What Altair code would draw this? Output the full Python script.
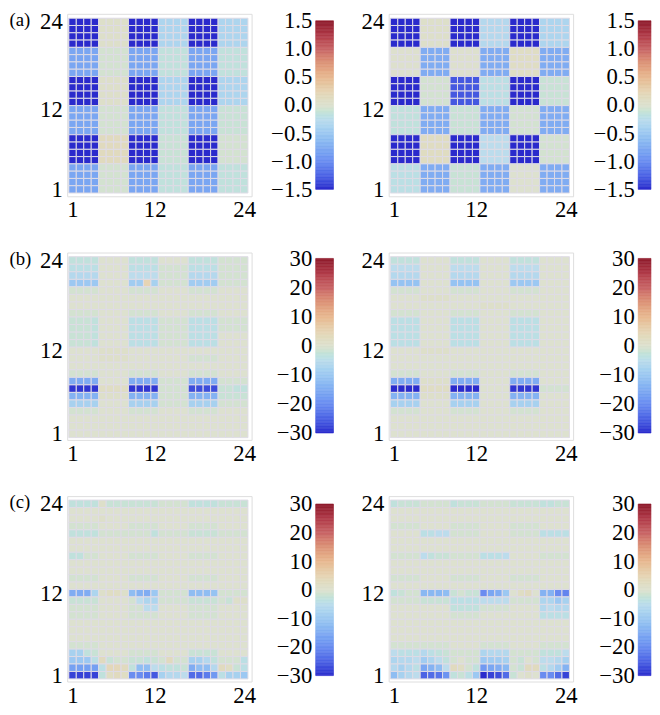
import altair as alt
import numpy as np
import pandas as pd

FONT = "Liberation Serif"

# ---- colour map stops (dark blue -> pale -> dark red) ----
CMAP = ["#2a2acc", "#4c62e4", "#6a8cf0", "#80acf2", "#9cc8f2", "#bcdcec",
        "#dde1cf", "#e6d4b4", "#e8b890", "#dc9478", "#c86466", "#b03a48", "#8e1a2c"]

AXIS_TICKS = [1, 12, 24]
CBAR_A_TICKS = [-1.5, -1.0, -0.5, 0.0, 0.5, 1.0, 1.5]
CBAR_BC_TICKS = [-30, -20, -10, 0, 10, 20, 30]
PANEL_LABELS = ["(a)", "(b)", "(c)"]

# ---- panel (a): 6x6 blocks of 4x4 cells, top block row first ----
A_LEFT = [
    [-1.5, 0.05, -1.5, -0.35, -1.5, -0.35],
    [-0.8, -0.05, -0.8, -0.15, -0.8, -0.15],
    [-1.5, 0.05, -1.5, -0.35, -1.5, -0.35],
    [-0.8, -0.05, -0.8, -0.15, -0.8, -0.1],
    [-1.5, 0.15, -1.5, -0.1, -1.5, -0.05],
    [-0.8, -0.05, -0.8, -0.15, -0.8, -0.15],
]
A_RIGHT = [
    [-1.5, 0.05, -1.5, -0.3, -1.5, -0.35],
    [0.02, -0.75, 0.02, -0.75, 0.1, -0.75],
    [-1.5, -0.05, -1.3, -0.2, -1.5, -0.1],
    [-0.15, -0.75, -0.1, -0.75, -0.05, -0.75],
    [-1.5, 0.12, -1.5, -0.25, -1.5, -0.05],
    [-0.2, -0.75, -0.1, -0.75, 0.0, -0.75],
]

# ---- panels (b), (c): 24 rows of 24 cells, top row (24) first ----
B_LEFT = [
    "-3 -3 -3 -3 0 0 0 0 -3 -3 -3 -3 0 0 0 0 -3 -3 -3 -3 -1 -1 -1 -1",
    "-4 -4 -4 -4 0 0 0 0 -4 -4 -4 -4 -1 -1 -1 -1 -4 -4 -4 -4 -1 -1 -1 -1",
    "-6 -6 -6 -6 0 0 0 0 -5 -5 -5 -5 -1 -1 -1 -1 -6 -6 -6 -6 -1 -1 -1 -1",
    "-10 -10 -10 -10 0 0 0 0 -9 -9 5 -8 -1 -1 -1 -1 -9 -9 -9 -9 -1 -1 -1 -1",
    "-1 -1 -1 -1 0 0 0 0 -1 -1 -1 -1 0 0 0 0 -1 -1 -1 -1 0 0 0 0",
    "0 0 0 0 0 0 0 0 0 0 0 0 0 0 0 0 0 0 0 0 0 0 0 0",
    "0 0 0 0 0 0 0 0 0 0 0 0 0 0 0 0 0 0 0 0 0 0 0 0",
    "-1 -1 -1 -1 0 0 0 0 -1 -1 -1 -1 0 0 0 0 -1 -1 -1 -1 0 0 0 0",
    "-2 -2 -2 -3 0 0 0 0 -4 -4 -4 -4 -1 -1 -1 -1 -4 -4 -4 -4 -1 -1 -1 -1",
    "-2 -2 -2 -3 0 0 0 0 -4 -4 -4 -4 -1 -1 -1 -1 -4 -4 -4 -4 -1 -1 -1 -1",
    "-2 -2 -2 -3 0 0 0 0 -4 -4 -4 -4 -1 -1 -1 -1 -4 -4 -4 -4 0 0 0 0",
    "-2 -2 -2 -3 0 0 0 0 -4 -4 -4 -4 -1 -1 -1 -1 -4 -4 -4 -4 0 0 0 0",
    "0 0 0 0 1 1 1 1 0 0 0 0 0 0 0 0 0 0 0 0 0 0 0 0",
    "0 0 0 0 1 1 1 1 0 0 0 0 0 0 0 0 -1 -1 -1 -1 0 0 0 0",
    "0 0 0 0 0 0 0 0 0 0 0 0 0 0 0 0 0 0 0 0 0 0 0 0",
    "-1 -1 -1 -1 0 0 0 0 -1 -1 -1 -1 0 0 0 0 -1 -1 -1 -1 0 0 0 0",
    "-15 -15 -15 -15 0 0 0 0 -15 -15 -15 -15 -1 -1 -1 -1 -15 -15 -15 -15 -1 -1 -1 -1",
    "-29 -29 -29 -29 2 2 2 2 -29 -29 -29 -29 -1 -1 -1 -1 -27 -27 -27 -27 -2 -2 -3 -3",
    "-14 -14 -14 -14 1 1 1 1 -14 -14 -14 -14 -1 -1 -1 -1 -14 -14 -14 -14 -2 -2 -2 -2",
    "-8 -8 -8 -8 0 0 0 0 -8 -8 -8 -8 -1 -1 -1 -1 -8 -8 -8 -8 -1 -1 -1 -1",
    "-1 -1 -1 -1 0 0 0 0 -1 -1 -1 -1 0 0 0 0 -1 -1 -1 -1 0 0 0 0",
    "0 0 0 0 0 0 0 0 0 0 0 0 0 0 0 0 0 0 0 0 0 0 0 0",
    "0 0 0 0 0 0 0 0 0 0 0 0 0 0 0 0 0 0 0 0 0 0 0 0",
    "0 0 0 0 0 0 0 0 0 0 0 0 0 0 0 0 0 0 0 0 0 0 0 0",
]
B_RIGHT = [
    "-3 -3 -3 -3 0 0 0 0 -3 -3 -3 -3 0 0 0 0 -3 -3 -3 -3 0 0 0 0",
    "-5 -5 -5 -5 0 0 0 0 -5 -5 -5 -5 0 0 0 0 -5 -5 -5 -5 0 0 0 0",
    "-6 -6 -6 -6 0 0 0 0 -6 -6 -6 -6 0 0 0 0 -6 -6 -6 -6 0 0 0 0",
    "-11 -11 -11 -11 0 0 0 0 -11 -11 -11 -11 0 0 0 0 -10 -10 -10 -10 0 0 0 0",
    "-1 -1 -1 -1 0 0 0 0 -1 -1 -1 -1 0 0 0 0 -1 -1 -1 -1 0 0 0 0",
    "0 0 0 0 1 1 1 1 0 0 0 0 0 0 0 0 0 0 0 0 0 0 0 0",
    "0 0 0 0 0 0 0 0 0 0 0 0 1 1 1 1 0 0 0 0 0 0 0 0",
    "-1 -1 -1 -1 0 0 0 0 -1 -1 -1 -1 0 0 0 0 -1 -1 -1 -1 0 0 0 0",
    "-4 -4 -4 -4 0 0 0 0 -4 -4 -4 -4 0 0 0 0 -4 -4 -4 -4 0 0 0 0",
    "-4 -4 -4 -4 0 0 0 0 -4 -4 -4 -4 0 0 0 0 -4 -4 -4 -4 0 0 0 0",
    "-4 -4 -4 -4 0 0 0 0 -4 -4 -4 -4 0 0 0 0 -4 -4 -4 -4 0 0 0 0",
    "-4 -4 -4 -4 0 0 0 0 -4 -4 -4 -4 0 0 0 0 -4 -4 -4 -4 0 0 0 0",
    "0 0 0 0 1 1 1 1 0 0 0 0 0 0 0 0 0 0 0 0 0 0 0 0",
    "0 0 0 0 0 0 0 0 0 0 0 0 0 0 0 0 0 0 0 0 0 0 0 0",
    "0 0 0 0 0 0 0 0 0 0 0 0 0 0 0 0 0 0 0 0 0 0 0 0",
    "-1 -1 -1 -1 0 0 0 0 -1 -1 -1 -1 0 0 0 0 -1 -1 -1 -1 0 0 0 0",
    "-15 -15 -15 -15 1 1 1 1 -15 -15 -15 -15 0 0 0 0 -15 -15 -15 -15 0 0 0 0",
    "-30 -30 -30 -30 2 2 2 2 -30 -30 -30 -30 0 0 0 0 -29 -29 -29 -29 -1 -1 -1 -1",
    "-14 -14 -14 -14 1 1 1 1 -14 -14 -14 -14 0 0 0 0 -14 -14 -14 -14 0 0 0 0",
    "-8 -8 -8 -8 0 0 0 0 -8 -8 -8 -8 0 0 0 0 -8 -8 -8 -8 0 0 0 0",
    "-1 -1 -1 -1 0 0 0 0 -1 -1 -1 -1 0 0 0 0 -1 -1 -1 -1 0 0 0 0",
    "0 0 0 0 0 0 0 0 0 0 0 0 0 0 0 0 0 0 0 0 0 0 0 0",
    "0 0 0 0 0 0 0 0 0 0 0 0 0 0 0 0 0 0 0 0 0 0 0 0",
    "0 0 0 0 0 0 0 0 0 0 0 0 0 0 0 0 0 0 0 0 0 0 0 0",
]
C_LEFT = [
    "-3 -3 -3 -3 1 -2 -2 -2 -2 -2 -2 -2 -1 -1 -1 -1 -3 -3 -3 -3 -2 -2 -2 -2",
    "0 0 0 0 0 0 0 0 0 0 0 0 0 0 0 0 0 0 0 0 0 0 0 0",
    "0 0 0 0 1 0 0 0 0 0 0 0 0 0 0 0 0 0 0 0 0 0 0 0",
    "-1 -1 -1 -1 0 0 0 0 -1 -1 -1 -1 0 0 0 0 -1 -1 -1 -1 0 0 0 0",
    "-3 -3 -3 -3 -1 -1 -1 -1 -1 -1 -1 -3 -1 -1 -1 -1 -2 -2 -2 -2 -1 -1 -1 -1",
    "0 0 0 0 0 0 0 0 0 0 0 0 0 0 0 0 0 0 0 0 0 0 0 0",
    "0 0 0 0 0 0 0 0 0 0 0 0 0 0 0 0 0 0 0 0 0 0 0 0",
    "-3 -3 -1 -1 0 0 0 0 -1 -1 -1 -1 0 0 0 0 -1 -1 -1 -1 0 0 0 0",
    "0 0 0 0 0 0 0 0 0 0 0 0 0 0 0 0 0 0 0 0 0 0 0 0",
    "0 0 0 0 0 0 0 0 0 0 0 0 0 0 0 0 0 0 0 0 0 0 0 0",
    "-1 -1 -1 -1 0 0 0 0 -1 -1 -1 -1 0 0 0 0 -1 -1 -1 -1 0 0 0 0",
    "0 0 0 0 0 0 0 0 0 0 0 0 0 0 0 0 0 0 0 0 0 0 0 0",
    "-15 -15 -15 -7 1 2 2 1 -12 -14 -15 -10 -1 -1 -1 -1 -12 -12 -12 -11 -1 -1 -1 -1",
    "-2 -2 -2 -2 0 0 0 0 -1 -5 -7 -7 -1 -1 -1 -1 -2 -2 -2 -2 -1 -2 1 1",
    "-1 -1 -1 -1 0 0 0 0 -1 -1 -5 -5 0 0 0 0 -1 -1 -1 -1 0 0 0 0",
    "-1 -1 -1 -1 0 0 0 0 -1 -1 -1 -1 0 0 0 0 -1 -1 -1 -1 0 0 0 0",
    "0 0 0 0 0 0 0 0 0 0 0 0 0 0 0 0 0 0 0 0 0 0 0 0",
    "0 0 0 0 0 0 0 0 0 0 0 0 0 0 0 0 0 0 0 0 0 0 0 0",
    "0 0 0 0 0 0 0 0 0 0 0 0 0 0 0 0 0 0 0 0 0 0 0 0",
    "-1 -1 -1 -1 0 0 0 0 0 0 0 0 0 0 0 0 0 0 0 0 0 0 0 0",
    "-8 -8 -3 -2 0 0 0 0 -1 -1 -1 -1 0 0 0 0 -2 -2 -2 -2 0 0 0 0",
    "-10 -10 -10 -4 3 -2 -1 -1 -2 -2 -3 -2 -1 3 -1 -1 -8 -8 -6 -3 -1 -1 -1 -4",
    "-17 -17 -17 -17 -4 4 4 3 -3 -12 -12 -5 -4 -3 -3 -2 -15 -12 -12 -6 3 2 -2 -4",
    "-28 -28 -28 -28 -3 2 3 2 -20 -20 -22 -26 -8 -6 -6 -5 -24 -24 -22 -18 -4 -8 -8 -10",
]
C_RIGHT = [
    "-3 -2 -2 -2 -1 -1 -1 -1 -3 -2 -2 -2 -1 -1 -1 -1 -2 -2 -2 -2 -3 -3 -2 -2",
    "0 0 0 0 0 0 0 0 0 0 0 0 0 0 0 0 0 0 0 0 0 0 0 0",
    "0 0 0 0 0 0 0 0 0 0 0 0 0 0 0 0 0 0 0 0 0 0 0 0",
    "-1 -1 -1 -1 0 0 0 0 -1 -1 -1 -1 0 0 0 0 -1 -1 -1 -1 0 0 0 0",
    "0 0 0 0 -4 -4 -5 -5 -1 -1 -1 -1 0 0 0 0 -1 -1 -1 -1 -4 -4 -4 -4",
    "0 0 0 0 0 0 0 0 0 0 0 0 0 0 0 0 0 0 0 0 0 0 0 0",
    "0 0 0 0 0 0 0 0 0 0 0 0 0 0 0 0 0 0 0 0 0 0 0 0",
    "-1 -1 -1 -1 -5 -3 -2 -2 -1 -1 -1 -1 -4 -4 -4 -5 0 0 0 0 -1 -1 -1 -1",
    "0 0 0 0 0 0 0 0 0 0 0 0 0 0 0 0 0 0 0 0 0 0 0 0",
    "0 0 0 0 0 0 0 0 0 0 0 0 0 0 0 0 0 0 0 0 0 0 0 0",
    "-1 -1 -1 -1 0 0 0 0 -1 -1 -1 -1 0 0 0 0 -1 -1 -1 -1 0 0 0 0",
    "0 0 0 0 0 0 0 0 0 0 0 0 0 0 0 0 0 0 0 0 0 0 0 0",
    "-3 -2 -1 -1 -13 -13 -13 -12 -2 -1 -2 -2 -20 -16 -15 -10 0 2 3 0 -14 -14 -20 -21",
    "-1 -1 -1 -1 -2 -2 -2 -2 -4 -4 -4 -4 -5 -5 -5 -5 -1 -1 -1 -1 -7 -7 -10 -8",
    "0 0 0 0 0 0 0 0 -3 -3 -3 -3 -1 -1 -1 -1 0 0 0 0 -6 -5 -6 -6",
    "0 0 0 0 0 0 0 0 -1 -1 -1 -1 0 0 0 0 0 0 0 0 -4 -4 -4 -4",
    "0 0 0 0 0 0 0 0 0 0 0 0 0 0 0 0 0 0 0 0 0 0 0 0",
    "0 0 0 0 0 0 0 0 0 0 0 0 0 0 0 0 0 0 0 0 0 0 0 0",
    "0 0 0 0 0 0 0 0 0 0 0 0 0 0 0 0 0 0 0 0 0 0 0 0",
    "-1 -1 -1 -1 -1 -1 -1 -1 0 0 0 0 -1 -1 -1 -1 0 0 0 0 -1 -1 -1 -1",
    "-5 -4 -4 -4 -6 -4 -3 -2 -1 -1 -1 -1 -7 -6 -6 -6 -1 -1 -1 -1 -3 -3 -3 -5",
    "-7 -6 -6 -5 -9 -7 -5 -3 -1 0 -1 -1 -10 -9 -9 -8 -1 -2 0 -1 -5 -5 -6 -8",
    "-6 -8 -6 -4 -16 -14 -12 -5 3 2 -1 -3 -18 -16 -15 -13 -1 -2 3 3 -4 -6 -9 -14",
    "-12 -8 -6 -5 -25 -24 -23 -19 -3 -2 -4 -10 -30 -28 -27 -24 -2 0 1 0 -20 -20 -24 -28",
]


def blocks_to_df(blocks):
    recs = []
    for bi, brow in enumerate(blocks):
        for r in range(4):
            row = 24 - (bi * 4 + r)
            for bj, v in enumerate(brow):
                for c in range(4):
                    recs.append({"col": bj * 4 + c + 1, "row": row, "val": v})
    return pd.DataFrame(recs)


def rows_to_df(lines):
    recs = []
    for i, line in enumerate(lines):
        vals = [float(t) for t in line.split()]
        for j, v in enumerate(vals):
            recs.append({"col": j + 1, "row": 24 - i, "val": v})
    return pd.DataFrame(recs)


def color_scale(vmax):
    return alt.Scale(domain=np.linspace(-vmax, vmax, len(CMAP)).tolist(),
                     range=CMAP, clamp=True)


def heat(df, vmax, h, ydom, label=""):
    yaxis_kw = dict(values=AXIS_TICKS, format="d", labelFontSize=23, labelFont=FONT,
                    labelColor="black", ticks=False, domain=False, grid=False,
                    labelPadding=5, labelFlush=False)
    if label:
        yaxis_kw.update(title=label, titleAngle=0, titleX=-59, titleY=6,
                        titleAlign="left", titleBaseline="middle", titleFont=FONT,
                        titleFontSize=19, titleFontWeight="normal", titleColor="black")
    else:
        yaxis_kw.update(title=None)
    return (
        alt.Chart(df)
        .transform_calculate(x0="datum.col - 0.5", x1="datum.col + 0.5",
                             y0="datum.row - 0.5", y1="datum.row + 0.5")
        .mark_rect(stroke="#dedbe6", strokeWidth=1)
        .encode(
            x=alt.X("x0:Q", scale=alt.Scale(domain=[0.28, 24.99], nice=False, zero=False),
                    axis=alt.Axis(values=AXIS_TICKS, format="d", labelFontSize=23,
                                  labelFont=FONT, labelColor="black", ticks=False,
                                  domain=False, grid=False, labelPadding=3,
                                  labelFlush=False, title=None)),
            x2="x1:Q",
            y=alt.Y("y0:Q", scale=alt.Scale(domain=ydom, nice=False, zero=False),
                    axis=alt.Axis(**yaxis_kw)),
            y2="y1:Q",
            color=alt.Color("val:Q", scale=color_scale(vmax), legend=None),
        )
        .properties(width=187, height=h)
    )


def cbar(vmax, h, ticks, fmt, width, top_px, bot_px):
    n = 120
    edges = np.linspace(-vmax, vmax, n + 1)
    df = pd.DataFrame({"lo": edges[:-1], "hi": edges[1:],
                       "mid": (edges[:-1] + edges[1:]) / 2})
    unit = 2 * vmax / (h - top_px - bot_px)
    return (
        alt.Chart(df)
        .mark_rect(strokeWidth=0.6)
        .encode(
            x=alt.value(0), x2=alt.value(width),
            y=alt.Y("lo:Q", scale=alt.Scale(domain=[-vmax - bot_px * unit,
                                                    vmax + top_px * unit],
                                            nice=False, zero=False),
                    axis=alt.Axis(values=ticks, format=fmt, labelFontSize=23,
                                  labelFont=FONT, labelColor="black", ticks=False,
                                  domain=False, grid=False, labelPadding=4,
                                  labelFlush=False, title=None)),
            y2="hi:Q",
            color=alt.Color("mid:Q", scale=color_scale(vmax), legend=None),
            stroke=alt.Stroke("mid:Q", scale=color_scale(vmax), legend=None),
        )
        .properties(width=width, height=h, view=alt.ViewBackground(stroke="transparent"))
    )


def spacer(w, h):
    return (
        alt.Chart(pd.DataFrame({"s": [0]}))
        .mark_rect(opacity=0)
        .encode(x=alt.value(1), x2=alt.value(2), y=alt.value(20), y2=alt.value(21))
        .properties(width=w, height=h, view=alt.ViewBackground(stroke="transparent"))
    )


ROW_H = [185, 190, 188]
Y_DOMAINS = [[0.05, 25.1], [0.2, 25.06], [0.15, 25.03]]
CBAR_PADS = [(7, 7), (6, 7), (8, 6)]
panels = [
    (blocks_to_df(A_LEFT), blocks_to_df(A_RIGHT), 1.5, CBAR_A_TICKS, ".1f"),
    (rows_to_df(B_LEFT), rows_to_df(B_RIGHT), 30, CBAR_BC_TICKS, "d"),
    (rows_to_df(C_LEFT), rows_to_df(C_RIGHT), 30, CBAR_BC_TICKS, "d"),
]

charts = []
for i, (dl, dr, vmax, ticks, fmt) in enumerate(panels):
    h = ROW_H[i]
    tp, bp = CBAR_PADS[i]
    charts += [
        heat(dl, vmax, h, Y_DOMAINS[i], PANEL_LABELS[i]),
        spacer(65, h),
        cbar(vmax, h, ticks, fmt, 18, tp, bp),
        spacer(56, h),
        heat(dr, vmax, h, Y_DOMAINS[i]),
        spacer(66, h),
        cbar(vmax, h, ticks, fmt, 13, tp, bp),
    ]

chart = (
    alt.concat(*charts, columns=7, spacing={"row": 57, "column": 0},
               bounds="flush", align="each")
    .resolve_scale(color="independent", stroke="independent",
                   x="independent", y="independent")
    .properties(padding={"top": -4, "left": 0, "right": 0, "bottom": 0})
    .configure_view(stroke="#a9a9a9", strokeWidth=1)
    .configure(background="white")
)

chart.save("out.html", embed_options={"renderer": "svg", "actions": False})
